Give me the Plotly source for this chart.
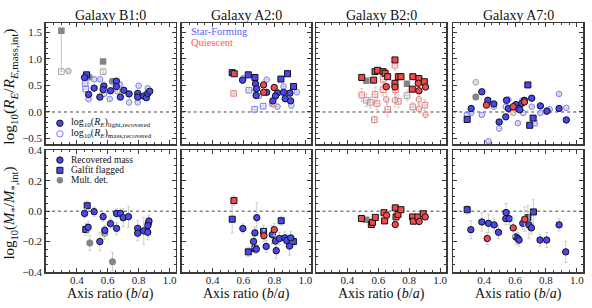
import plotly.graph_objects as go

W, H = 592, 308
FONT = "Liberation Serif"
SF_FILL = "#4848f2"
Q_FILL = "#f24a4a"
SF_OPEN = "#7a7aff"
Q_OPEN = "#f27c7c"
GRAY = "#858585"
GRAY_OPEN = "#a2a2a2"
ERR = "#cdcdcd"
EDGE = "#111111"

titles = ["Galaxy B1:0", "Galaxy A2:0", "Galaxy B2:0", "Galaxy A7:0"]
x_ticks = [0.4, 0.6, 0.8, 1.0]
top_y_ticks = [-0.5, 0.0, 0.5, 1.0, 1.5]
bot_y_ticks = [-0.4, -0.2, 0.0, 0.2, 0.4]

# ---------------- B1:0 top (size ratio) ----------------
b1t_lt_sf_c_x = [0.45, 0.512, 0.476, 0.549, 0.575, 0.57, 0.618, 0.656, 0.656, 0.682, 0.704, 0.738, 0.794, 0.794, 0.833, 0.85, 0.859, 0.872]
b1t_lt_sf_c_y = [0.65, 0.45, 0.33, 0.28, 0.49, 0.42, 0.40, 0.58, 0.48, 0.28, 0.41, 0.34, 0.35, 0.28, 0.30, 0.27, 0.35, 0.39]
b1t_lt_sf_s_x = [0.463]
b1t_lt_sf_s_y = [0.70]
b1t_lt_md_s_x = [0.30, 0.57]
b1t_lt_md_s_y = [1.53, 0.95]
b1t_lt_md_c_x = [0.48, 0.63]
b1t_lt_md_c_y = [0.66, 0.58]
b1t_ms_sf_c_x = [0.476, 0.512, 0.551, 0.577, 0.613, 0.663, 0.678, 0.738, 0.80, 0.794, 0.859, 0.846]
b1t_ms_sf_c_y = [0.24, 0.615, 0.615, 0.34, 0.245, 0.39, 0.52, 0.18, 0.495, 0.18, 0.446, 0.277]
b1t_ms_sf_c_e = [0.03, 0.03, 0.03, 0.04, 0.03, 0.04, 0.03, 0.03, 0.04, 0.03, 0.03, 0.04]
b1t_ms_sf_s_x = [0.454, 0.458]
b1t_ms_sf_s_y = [0.54, 0.43]
b1t_ms_sf_s_e = [0.04, 0.04]
b1t_ms_md_s_x = [0.30, 0.57]
b1t_ms_md_s_y = [0.76, 0.76]
b1t_ms_md_s_eup = [0.77, 0.03]
b1t_ms_md_s_edn = [0.0, 0.03]
b1t_ms_md_c_x = [0.345]
b1t_ms_md_c_y = [0.77]
b1t_ms_md_c_e = [0.03]

# ---------------- A2:0 top ----------------
a2t_lt_sf_s_x = [0.527, 0.631, 0.674, 0.842, 0.885, 0.924]
a2t_lt_sf_s_y = [0.74, 0.70, 0.65, 0.62, 0.72, 0.48]
a2t_lt_q_s_x = [0.54]
a2t_lt_q_s_y = [0.72]
a2t_lt_sf_c_x = [0.594, 0.678, 0.685, 0.682, 0.75, 0.82, 0.807, 0.79, 0.859, 0.90, 0.87, 0.905]
a2t_lt_sf_c_y = [0.60, 0.53, 0.44, 0.31, 0.37, 0.36, 0.30, 0.21, 0.37, 0.355, 0.25, 0.21]
a2t_lt_q_c_x = [0.73, 0.73, 0.799]
a2t_lt_q_c_y = [0.51, 0.37, 0.46]
a2t_ms_sf_c_x = [0.60, 0.678, 0.75, 0.786, 0.82, 0.859, 0.91, 0.945, 0.70]
a2t_ms_sf_c_y = [0.64, 0.41, 0.61, 0.15, 0.10, 0.48, 0.12, 0.37, 0.30]
a2t_ms_sf_c_e = [0.03, 0.04, 0.03, 0.04, 0.04, 0.03, 0.04, 0.03, 0.03]
a2t_ms_sf_s_x = [0.635, 0.672, 0.727, 0.885]
a2t_ms_sf_s_y = [0.41, 0.05, 0.11, 0.73]
a2t_ms_sf_s_e = [0.04, 0.05, 0.05, 0.03]
a2t_ms_q_s_x = [0.536]
a2t_ms_q_s_y = [0.35]
a2t_ms_q_s_e = [0.03]
a2t_ms_q_c_x = [0.73, 0.796]
a2t_ms_q_c_y = [0.51, 0.14]
a2t_ms_q_c_e = [0.03, 0.04]

# ---------------- B2:0 top ----------------
b2t_lt_q_s_x = [0.493, 0.570, 0.579, 0.596, 0.631, 0.644, 0.661, 0.708, 0.708, 0.73, 0.747, 0.824, 0.863, 0.898, 0.82]
b2t_lt_q_s_y = [0.65, 0.60, 0.76, 0.785, 0.76, 0.73, 0.665, 0.98, 0.54, 0.665, 0.665, 0.665, 0.63, 0.57, 0.43]
b2t_lt_q_c_x = [0.652, 0.708, 0.859, 0.863, 0.906]
b2t_lt_q_c_y = [0.476, 0.47, 0.54, 0.40, 0.47]
b2t_lt_md_s_x = [0.523, 0.786]
b2t_lt_md_s_y = [0.59, 0.53]
b2t_ms_md_s_x = [0.523, 0.786]
b2t_ms_md_s_y = [0.22, 0.31]
b2t_ms_md_s_e = [0.12, 0.10]
b2t_ms_q_s_x = [0.493, 0.549, 0.579, 0.592, 0.631, 0.631, 0.661, 0.575, 0.708, 0.712, 0.73, 0.824, 0.902]
b2t_ms_q_s_y = [0.32, 0.18, 0.33, 0.16, 0.615, 0.42, 0.05, -0.145, 0.88, 0.42, 0.20, 0.097, 0.13]
b2t_ms_q_s_e = [0.12, 0.10, 0.14, 0.12, 0.10, 0.12, 0.13, 0.06, 0.10, 0.14, 0.12, 0.08, 0.10]
b2t_ms_q_c_x = [0.652, 0.708, 0.863, 0.863, 0.906]
b2t_ms_q_c_y = [0.24, 0.22, 0.24, 0.06, -0.05]
b2t_ms_q_c_e = [0.14, 0.12, 0.08, 0.08, 0.06]

# ---------------- A7:0 top ----------------
a7t_lt_sf_c_x = [0.316, 0.385, 0.424, 0.463, 0.545, 0.557, 0.497, 0.54, 0.605, 0.622, 0.631, 0.644, 0.661, 0.708, 0.764, 0.807, 0.885, 0.932]
a7t_lt_sf_c_y = [0.066, 0.38, 0.22, 0.151, 0.22, 0.066, -0.188, -0.091, 0.139, 0.066, 0.042, 0.163, 0.22, 0.26, 0.115, 0.018, 0.066, -0.15]
a7t_lt_sf_s_x = [0.29, 0.683, 0.717, 0.695]
a7t_lt_sf_s_y = [-0.14, 0.51, -0.115, -0.25]
a7t_lt_q_c_x = [0.415, 0.588, 0.661]
a7t_lt_q_c_y = [0.13, 0.10, 0.19]
a7t_lt_md_c_x = [0.346]
a7t_lt_md_c_y = [0.28]
a7t_ms_md_c_x = [0.346]
a7t_ms_md_c_y = [0.56]
a7t_ms_md_c_e = [0.05]
a7t_ms_sf_c_x = [0.316, 0.385, 0.463, 0.54, 0.557, 0.497, 0.428, 0.618, 0.652, 0.648, 0.708, 0.764, 0.80, 0.885, 0.932, 0.824]
a7t_ms_sf_c_y = [-0.018, -0.055, 0.10, 0.10, 0.235, -0.31, -0.55, -0.21, -0.018, 0.22, 0.10, -0.018, 0.005, 0.34, 0.08, 0.05]
a7t_ms_sf_c_e = [0.03, 0.03, 0.03, 0.04, 0.03, 0.05, 0.03, 0.03, 0.04, 0.03, 0.03, 0.03, 0.03, 0.03, 0.03, 0.03]
a7t_ms_sf_s_x = [0.29, 0.725]
a7t_ms_sf_s_y = [-0.067, -0.21]
a7t_ms_sf_s_e = [0.04, 0.04]
a7t_ms_q_c_x = [0.424, 0.588]
a7t_ms_q_c_y = [0.18, -0.018]
a7t_ms_q_c_e = [0.04, 0.04]

# ---------------- bottom row (mass ratio) ----------------
b1b_sf_c_x = [0.45, 0.473, 0.512, 0.549, 0.57, 0.581, 0.618, 0.657, 0.657, 0.683, 0.70, 0.734, 0.794, 0.794, 0.833, 0.859, 0.863, 0.867, 0.86]
b1b_sf_c_y = [-0.015, -0.106, -0.003, -0.20, -0.036, -0.126, -0.082, -0.113, -0.015, -0.015, -0.043, -0.036, -0.113, -0.145, -0.13, -0.139, -0.08, -0.065, -0.095]
b1b_sf_c_e = [0.03, 0.04, 0.03, 0.06, 0.03, 0.03, 0.03, 0.04, 0.03, 0.03, 0.06, 0.07, 0.05, 0.05, 0.09, 0.05, 0.04, 0.04, 0.04]
b1b_sf_s_x = [0.467, 0.458]
b1b_sf_s_y = [0.036, -0.12]
b1b_sf_s_e = [0.03, 0.04]
b1b_md_c_x = [0.484, 0.631, 0.58]
b1b_md_c_y = [-0.21, -0.333, -0.145]
b1b_md_c_e = [0.05, 0.06, 0.04]

a2b_sf_s_x = [0.527, 0.73, 0.844, 0.631, 0.674, 0.923]
a2b_sf_s_y = [-0.053, -0.133, -0.063, -0.268, -0.247, -0.20]
a2b_sf_s_e = [0.09, 0.04, 0.03, 0.03, 0.03, 0.03]
a2b_q_s_x = [0.538]
a2b_q_s_y = [0.07]
a2b_q_s_e = [0.03]
a2b_sf_c_x = [0.596, 0.674, 0.665, 0.683, 0.686, 0.747, 0.786, 0.807, 0.812, 0.833, 0.867, 0.88, 0.906, 0.898]
a2b_sf_c_y = [-0.114, -0.143, -0.20, -0.25, -0.043, -0.232, -0.155, -0.197, -0.26, -0.18, -0.176, -0.193, -0.176, -0.23]
a2b_sf_c_e = [0.03, 0.04, 0.04, 0.03, 0.10, 0.04, 0.06, 0.04, 0.05, 0.04, 0.04, 0.04, 0.04, 0.06]
a2b_q_c_x = [0.732, 0.799]
a2b_q_c_y = [-0.162, -0.122]
a2b_q_c_e = [0.04, 0.04]

b2b_q_s_x = [0.491, 0.555, 0.563, 0.581, 0.637, 0.641, 0.71, 0.715, 0.728, 0.747, 0.822, 0.827, 0.857, 0.891]
b2b_q_s_y = [-0.048, -0.088, -0.073, -0.041, -0.01, -0.064, 0.022, -0.038, -0.021, 0.01, -0.038, -0.066, -0.038, -0.017]
b2b_q_c_x = [0.654, 0.71, 0.865, 0.904]
b2b_q_c_y = [-0.027, -0.088, -0.068, -0.038]
b2b_md_s_x = [0.521]
b2b_md_s_y = [-0.057]

a7b_sf_s_x = [0.29, 0.683, 0.719]
a7b_sf_s_y = [0.01, -0.043, -0.005]
a7b_sf_s_e = [0.03, 0.08, 0.08]
a7b_sf_c_x = [0.314, 0.385, 0.428, 0.465, 0.493, 0.542, 0.54, 0.562, 0.65, 0.605, 0.618, 0.626, 0.69, 0.706, 0.762, 0.805, 0.885, 0.928]
a7b_sf_c_y = [-0.122, -0.071, -0.08, -0.09, -0.139, -0.009, -0.049, -0.049, -0.08, -0.17, -0.18, -0.19, -0.091, -0.11, -0.19, -0.19, -0.09, -0.268]
a7b_sf_c_e = [0.06, 0.06, 0.06, 0.04, 0.04, 0.06, 0.04, 0.04, 0.04, 0.05, 0.04, 0.04, 0.09, 0.04, 0.04, 0.05, 0.04, 0.07]
a7b_q_c_x = [0.42, 0.588, 0.663]
a7b_q_c_y = [-0.18, -0.11, -0.053]
a7b_q_c_e = [0.04, 0.06, 0.08]

# ---------------- figure ----------------
fig = go.Figure()


def sid(k):
    return "" if k == 1 else str(k)


def add(k, x, y, symbol, color, filled, e=None, eup=None, edn=None, size=None, edge=True):
    if filled:
        marker = dict(symbol=symbol, size=size or (6.4 if symbol == "circle" else 6.0), color=color,
                      line=dict(color=EDGE if edge else color, width=1 if edge else 0))
    else:
        marker = dict(symbol=symbol + "-open", size=size or 5.6, color=color, line=dict(width=1))
    kw = {}
    if e is not None:
        kw["error_y"] = dict(type="data", array=e, color=ERR, thickness=1, width=1.5)
        kw["error_x"] = dict(type="data", array=[0.015] * len(x), color=ERR, thickness=1, width=1.2)
    if eup is not None:
        kw["error_y"] = dict(type="data", symmetric=False, array=eup, arrayminus=edn, color=ERR, thickness=1.2, width=1.5)
    fig.add_trace(go.Scatter(x=x, y=y, mode="markers", marker=marker, xaxis="x" + sid(k), yaxis="y" + sid(k),
                             showlegend=False, hoverinfo="skip", **kw))


# B1 top
add(1, b1t_ms_md_s_x, b1t_ms_md_s_y, "square", GRAY_OPEN, False, eup=b1t_ms_md_s_eup, edn=b1t_ms_md_s_edn)
add(1, b1t_ms_md_c_x, b1t_ms_md_c_y, "circle", GRAY_OPEN, False, e=b1t_ms_md_c_e)
add(1, b1t_ms_sf_c_x, b1t_ms_sf_c_y, "circle", SF_OPEN, False, e=b1t_ms_sf_c_e)
add(1, b1t_ms_sf_s_x, b1t_ms_sf_s_y, "square", SF_OPEN, False, e=b1t_ms_sf_s_e)
add(1, b1t_lt_md_s_x, b1t_lt_md_s_y, "square", GRAY, True, edge=False, size=6.5)
add(1, b1t_lt_md_c_x, b1t_lt_md_c_y, "circle", GRAY, True, edge=False, size=7)
add(1, b1t_lt_sf_s_x, b1t_lt_sf_s_y, "square", SF_FILL, True)
add(1, b1t_lt_sf_c_x, b1t_lt_sf_c_y, "circle", SF_FILL, True)

# A2 top
add(2, a2t_ms_sf_c_x, a2t_ms_sf_c_y, "circle", SF_OPEN, False, e=a2t_ms_sf_c_e)
add(2, a2t_ms_sf_s_x, a2t_ms_sf_s_y, "square", SF_OPEN, False, e=a2t_ms_sf_s_e)
add(2, a2t_ms_q_s_x, a2t_ms_q_s_y, "square", Q_OPEN, False, e=a2t_ms_q_s_e)
add(2, a2t_ms_q_c_x, a2t_ms_q_c_y, "circle", Q_OPEN, False, e=a2t_ms_q_c_e)
add(2, a2t_lt_sf_s_x, a2t_lt_sf_s_y, "square", SF_FILL, True)
add(2, a2t_lt_q_s_x, a2t_lt_q_s_y, "square", Q_FILL, True)
add(2, a2t_lt_sf_c_x, a2t_lt_sf_c_y, "circle", SF_FILL, True)
add(2, a2t_lt_q_c_x, a2t_lt_q_c_y, "circle", Q_FILL, True)

# B2 top
add(3, b2t_ms_md_s_x, b2t_ms_md_s_y, "square", GRAY_OPEN, False, e=b2t_ms_md_s_e)
add(3, b2t_ms_q_s_x, b2t_ms_q_s_y, "square", Q_OPEN, False, e=b2t_ms_q_s_e)
add(3, b2t_ms_q_c_x, b2t_ms_q_c_y, "circle", Q_OPEN, False, e=b2t_ms_q_c_e)
add(3, b2t_lt_md_s_x, b2t_lt_md_s_y, "square", GRAY, True, edge=False, size=6.5)
add(3, b2t_lt_q_s_x, b2t_lt_q_s_y, "square", Q_FILL, True)
add(3, b2t_lt_q_c_x, b2t_lt_q_c_y, "circle", Q_FILL, True)

# A7 top
add(4, a7t_ms_md_c_x, a7t_ms_md_c_y, "circle", GRAY_OPEN, False, e=a7t_ms_md_c_e)
add(4, a7t_ms_sf_c_x, a7t_ms_sf_c_y, "circle", SF_OPEN, False, e=a7t_ms_sf_c_e)
add(4, a7t_ms_sf_s_x, a7t_ms_sf_s_y, "square", SF_OPEN, False, e=a7t_ms_sf_s_e)
add(4, a7t_ms_q_c_x, a7t_ms_q_c_y, "circle", Q_OPEN, False, e=a7t_ms_q_c_e)
add(4, a7t_lt_md_c_x, a7t_lt_md_c_y, "circle", GRAY, True, edge=False, size=7)
add(4, a7t_lt_sf_s_x, a7t_lt_sf_s_y, "square", SF_FILL, True)
add(4, a7t_lt_sf_c_x, a7t_lt_sf_c_y, "circle", SF_FILL, True)
add(4, a7t_lt_q_c_x, a7t_lt_q_c_y, "circle", Q_FILL, True)

# bottom row
add(5, b1b_md_c_x, b1b_md_c_y, "circle", GRAY, True, e=b1b_md_c_e, edge=False, size=7)
add(5, b1b_sf_s_x, b1b_sf_s_y, "square", SF_FILL, True, e=b1b_sf_s_e)
add(5, b1b_sf_c_x, b1b_sf_c_y, "circle", SF_FILL, True, e=b1b_sf_c_e)

add(6, a2b_sf_s_x, a2b_sf_s_y, "square", SF_FILL, True, e=a2b_sf_s_e)
add(6, a2b_q_s_x, a2b_q_s_y, "square", Q_FILL, True, e=a2b_q_s_e)
add(6, a2b_sf_c_x, a2b_sf_c_y, "circle", SF_FILL, True, e=a2b_sf_c_e)
add(6, a2b_q_c_x, a2b_q_c_y, "circle", Q_FILL, True, e=a2b_q_c_e)

add(7, b2b_md_s_x, b2b_md_s_y, "square", GRAY, True, edge=False, size=6.5)
add(7, b2b_q_s_x, b2b_q_s_y, "square", Q_FILL, True)
add(7, b2b_q_c_x, b2b_q_c_y, "circle", Q_FILL, True)

add(8, a7b_sf_s_x, a7b_sf_s_y, "square", SF_FILL, True, e=a7b_sf_s_e)
add(8, a7b_sf_c_x, a7b_sf_c_y, "circle", SF_FILL, True, e=a7b_sf_c_e)
add(8, a7b_q_c_x, a7b_q_c_y, "circle", Q_FILL, True, e=a7b_q_c_e)

# ---------------- axes ----------------
cols_px = [(46, 176), (182, 312), (317, 447), (454, 584)]
rows_px = [(18, 144), (150, 277)]
AX = "#3a3a3a"
layout = {}
for r in range(2):
    for c in range(4):
        k = r * 4 + c + 1
        x0, x1 = cols_px[c]
        y0, y1 = rows_px[r]
        layout["xaxis" + sid(k)] = dict(
            domain=[x0 / W, x1 / W], anchor="y" + sid(k), range=[0.2, 1.04],
            tickmode="array", tickvals=x_ticks, ticktext=[f"{v:.1f}" for v in x_ticks],
            showticklabels=(r == 1), ticks="inside", ticklen=4, tickwidth=1, tickcolor=AX,
            ticklabelstandoff=-3,
            minor=dict(ticks="inside", ticklen=2, tickwidth=1, tickcolor=AX, tickmode="linear", tick0=0, dtick=0.05),
            showline=True, linecolor=AX, linewidth=1.6, mirror="allticks", showgrid=False, zeroline=False,
            tickfont=dict(family=FONT, size=11, color="#222"),
        )
        yt = top_y_ticks if r == 0 else bot_y_ticks
        layout["yaxis" + sid(k)] = dict(
            domain=[1 - y1 / H, 1 - y0 / H], anchor="x" + sid(k),
            range=[-0.61, 1.67] if r == 0 else [-0.402, 0.402],
            tickmode="array", tickvals=yt, ticktext=[f"{v:.1f}".replace("-", "\u2212") for v in yt],
            showticklabels=(c == 0), ticks="inside", ticklen=4, tickwidth=1, tickcolor=AX,
            minor=dict(ticks="inside", ticklen=2, tickwidth=1, tickcolor=AX, tickmode="linear", tick0=0,
                       dtick=0.1 if r == 0 else 0.05),
            showline=True, linecolor=AX, linewidth=1.6, mirror="allticks", showgrid=False, zeroline=False,
            tickfont=dict(family=FONT, size=11, color="#222"),
        )

shapes = []
for k in range(1, 9):
    shapes.append(dict(type="line", xref="x" + sid(k) + " domain", yref="y" + sid(k), x0=0, x1=1, y0=0, y1=0,
                       line=dict(color="#444", width=1, dash="dot"), layer="below"))

annotations = []


def ann(text, xpx, ypx, size, color="#111", xanchor="center", angle=0):
    annotations.append(dict(text=text, x=xpx / W, y=1 - ypx / H, xref="paper", yref="paper",
                            xanchor=xanchor, yanchor="middle", showarrow=False, textangle=angle,
                            font=dict(family=FONT, size=size, color=color)))


for c, t in enumerate(titles):
    ann(t, (cols_px[c][0] + cols_px[c][1]) / 2, 10, 14)
    ann("Axis ratio (<i>b</i>/<i>a</i>)", (cols_px[c][0] + cols_px[c][1]) / 2, 300, 14)

ann("log<sub>10</sub>(<i>R<sub>E</sub></i>/<i>R</i><sub><i>E</i>,mass,int</sub>)", 10, 84, 15.5, angle=-90)
ann("log<sub>10</sub>(<i>M</i><sub>*</sub>/<i>M</i><sub>*,int</sub>)", 10, 215, 15, angle=-90)

ann("Star-Forming", 189, 26.5, 10.5, color="#5c5cff", xanchor="left")
ann("Quiescent", 189, 37.5, 10.5, color="#ff5a5a", xanchor="left")


def key(xpx, ypx, kind, fill, line, lw=1.0, r=3.2):
    shapes.append(dict(type=kind, xref="paper", yref="paper", xsizemode="pixel", ysizemode="pixel",
                       xanchor=xpx / W, yanchor=1 - ypx / H, x0=-r, x1=r, y0=-r, y1=r,
                       fillcolor=fill, line=dict(color=line, width=lw)))


key(60, 122, "circle", SF_FILL, EDGE)
ann("log<sub>10</sub>(<i>R<sub>E</sub></i>)<sub>light,recovered</sub>", 69, 121.5, 10, xanchor="left")
key(60, 133, "circle", "rgba(0,0,0,0)", SF_OPEN)
ann("log<sub>10</sub>(<i>R<sub>E</sub></i>)<sub>mass,recovered</sub>", 69, 132.5, 10, xanchor="left")

key(60, 160.3, "circle", SF_FILL, EDGE)
ann("Recovered mass", 69, 160.3, 9.5, xanchor="left")
key(60, 171, "rect", SF_FILL, EDGE, r=3.0)
ann("Galfit flagged", 69, 171, 9.5, xanchor="left")
key(60, 181.3, "circle", GRAY, GRAY, lw=0)
ann("Mult. det.", 69, 181.3, 9.5, xanchor="left")

fig.update_layout(
    width=W, height=H, margin=dict(l=0, r=0, t=0, b=0),
    paper_bgcolor="white", plot_bgcolor="white",
    shapes=shapes, annotations=annotations, showlegend=False,
    font=dict(family=FONT), **layout,
)

# remove the browser's default 8px page margin so the figure sits at the window origin
fig.write_html("out.html", config={"displayModeBar": False, "staticPlot": True},
               post_script="document.body.style.margin='0';document.body.style.overflow='hidden';")
